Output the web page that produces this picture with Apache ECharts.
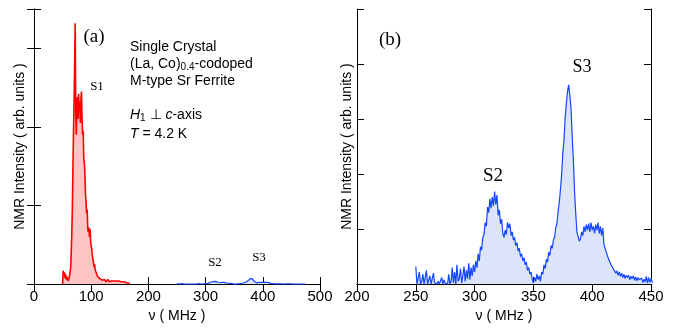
<!DOCTYPE html>
<html lang="en">
<head>
    <meta charset="UTF-8">
    <title>NMR spectra</title>
    <script type="text/javascript" src="https://cdn.jsdelivr.net/npm/echarts@6/dist/echarts.min.js"></script>
    <style>
        body{margin:0;background:#fff;}
        #chart{width:674px;height:328px;}
    </style>
</head>
<body>
<div id="chart"></div>
<script type="text/javascript">
    // 频率网格：起点与步长 (MHz)
    var redStart = 50, redStep = 1;
    var blueStart = 250, blueStep = 1;

    // S1 峰 (红), 50 ~ 167 MHz
    var redInt = [
        0, 0.17, 0.12, 0.15, 0.08, 0.13, 0.06, 0.10, 0.05, 0.08,
        0.04, 0.07, 0.10, 0.08, 0.20, 0.38, 0.62, 0.95, 1.45, 1.90,
        2.30, 2.75, 3.32, 2.20, 1.90, 2.25, 2.38, 2.10, 2.42, 2.20,
        2.32, 2.05, 2.35, 2.45, 2.10, 1.90, 1.95, 1.60, 1.55, 1.40,
        1.15, 1.05, 0.90, 0.95, 0.70, 0.66, 0.72, 0.60, 0.70, 0.55,
        0.48, 0.45, 0.36, 0.32, 0.30, 0.22, 0.25, 0.18, 0.20, 0.14,
        0.16, 0.10, 0.12, 0.09, 0.10, 0.07, 0.08, 0.06, 0.07, 0.05,
        0.06, 0.04, 0.05, 0.06, 0.04, 0.05, 0.03, 0.05, 0.04, 0.06,
        0.04, 0.05, 0.03, 0.04, 0.05, 0.03, 0.04, 0.03, 0.05, 0.03,
        0.04, 0.03, 0.04, 0.02, 0.04, 0.03, 0.03, 0.02, 0.04, 0.02,
        0.03, 0.02, 0.03, 0.02, 0.03, 0.02, 0.02, 0.03, 0.02, 0.02,
        0.03, 0.02, 0.02, 0.01, 0.02, 0.02, 0.01, 0
    ];

    // S2 / S3 峰 (蓝), 250 ~ 475 MHz
    var blueInt = [
        0.32, 0.00, 0.02, 0.22, 0.00, 0.05, 0.18, 0.00, 0.02, 0.25,
        0.00, 0.03, 0.15, 0.00, 0.00, 0.20, 0.02, 0.00, 0.00, 0.05,
        0.00, 0.00, 0.12, 0.00, 0.08, 0.02, 0.00, 0.00, 0.18, 0.00,
        0.05, 0.30, 0.02, 0.22, 0.00, 0.35, 0.05, 0.10, 0.28, 0.02,
        0.15, 0.32, 0.05, 0.25, 0.10, 0.38, 0.08, 0.30, 0.15, 0.35,
        0.22,
        0.42, 0.30, 0.55, 0.42, 0.68, 0.62, 0.85, 0.90, 1.12,
        1.05, 1.40, 1.30, 1.55, 1.38, 1.58, 1.42, 1.68, 1.45, 1.62,
        1.25, 1.35, 1.10, 1.18, 0.92, 0.85, 0.98, 0.90, 1.12, 1.02,
        1.10, 0.88, 0.95, 0.80, 0.85, 0.70, 0.75, 0.60, 0.65, 0.50,
        0.55, 0.42, 0.48, 0.35, 0.40, 0.25, 0.30, 0.18, 0.22, 0.08,
        0.02, 0.12, 0.05, 0.18, 0.08, 0.15, 0.05, 0.22, 0.18, 0.35,
        0.28, 0.45, 0.40, 0.58, 0.52, 0.70, 0.65, 0.80, 0.85, 1.02,
        1.10, 1.32, 1.48, 1.72, 1.98, 2.38, 2.62, 3.02, 3.28, 3.50,
        3.62, 3.42, 3.20, 2.68, 2.25, 1.68, 1.28, 0.95, 0.98, 0.78,
        0.82, 0.95, 0.88, 1.05, 0.95, 1.08, 0.98, 1.10, 0.95, 1.12,
        0.98, 1.05, 0.92, 1.08, 0.98, 1.12, 0.92, 1.05, 0.88, 1.02,
        0.72, 0.75, 0.58, 0.60, 0.45, 0.48, 0.35, 0.38, 0.28, 0.30,
        0.20, 0.24, 0.16, 0.22, 0.14, 0.20, 0.12, 0.18, 0.10, 0.16,
        0.12, 0.16, 0.08, 0.14, 0.10, 0.15, 0.07, 0.13, 0.06, 0.12,
        0.08, 0.05, 0.11, 0.03, 0.09, 0.04, 0.14, 0.02, 0.12, 0.03,
        0.10,
        0.04, 0.06, 0.03, 0.05, 0.04, 0.03, 0.05, 0.02, 0.04, 0.03,
        0.03, 0.04, 0.02, 0.03, 0.02, 0.03, 0.02, 0.02, 0.03, 0.02,
        0.01, 0.02, 0.01, 0.01, 0
    ];

    var xTicksA = [0, 500, 100];     // min, max, interval
    var xTicksB = [200, 450, 50];

    function pairs(start, step, vals){
        var out = [];
        for(var i=0;i<vals.length;i++){
            out.push([start + i*step, vals[i]]);
        }
        return out;
    }

    var chart = echarts.init(document.getElementById('chart'));
    var sans = 'Liberation Sans, Arial, sans-serif';
    var serif = 'Liberation Serif, Times New Roman, serif';
    var line = {show:true, lineStyle:{color:'#000', width:1}};
    var tick = {show:true, inside:true, length:7, lineStyle:{color:'#000'}};

    function xAx(grid, t, pos, withLabel, gap){
        return {
            gridIndex:grid, type:'value', position:pos, min:t[0], max:t[1], interval:t[2],
            axisLine:line, axisTick:tick, splitLine:{show:false},
            axisLabel:{show:withLabel, color:'#000', fontFamily:sans, fontSize:15, margin:5},
            name: withLabel ? 'ν ( MHz )' : '', nameLocation:'middle', nameGap:gap,
            nameTextStyle:{color:'#000', fontFamily:sans, fontSize:14}
        };
    }
    function yAx(grid, max, pos, withName, gap){
        return {
            gridIndex:grid, type:'value', position:pos, min:0, max:max, interval:1,
            axisLine:line, axisTick:tick, splitLine:{show:false},
            axisLabel:{show:false},
            name: withName ? 'NMR Intensity ( arb. units )' : '', nameLocation:'middle', nameGap:gap,
            nameTextStyle:{color:'#000', fontFamily:sans, fontSize:14}
        };
    }

    var yA = yAx(0, 3.5, 'left', true, 7);
    var yB = yAx(1, 5, 'left', true, 3);

    function txt(x, y, s, size, font, align, rich){
        return {type:'text', x:x, y:y, z:100, style:{
            text:s, fill:'#000', fontSize:size, fontFamily:font,
            align:align||'center', verticalAlign:'middle', rich:rich
        }};
    }
    var rich = {
        sub:{fontSize:10, fontFamily:sans, fill:'#000', verticalAlign:'bottom', padding:[6,0,0,0]},
        i:{fontSize:14, fontFamily:sans, fontStyle:'italic', fill:'#000'}
    };

    var option = {
        animation:false,
        grid:[
            {left:34, top:9, width:286, height:276},
            {left:357, top:9, width:294, height:280}
        ],
        xAxis:[
            xAx(0, xTicksA, 'bottom', true, 20),
            xAx(0, xTicksA, 'top', false, 0),
            xAx(1, xTicksB, 'bottom', true, 17),
            xAx(1, xTicksB, 'top', false, 0)
        ],
        yAxis:[
            yA,
            yAx(0, 3.5, 'right', false, 0),
            {gridIndex:0, type:'value', min:0, max:166, show:false},
            yB,
            yAx(1, 5, 'right', false, 0)
        ],
        series:[
            {type:'line', xAxisIndex:0, yAxisIndex:0, data:pairs(redStart, redStep, redInt),
             showSymbol:false, lineStyle:{color:'#ff0000', width:1.6},
             areaStyle:{color:'#ffc4c4', opacity:1}},
            {type:'line', xAxisIndex:0, yAxisIndex:2, data:pairs(blueStart, blueStep, blueInt),
             showSymbol:false, lineStyle:{color:'#1446ff', width:1.2},
             areaStyle:{color:'#dce4fa', opacity:1}},
            {type:'line', xAxisIndex:2, yAxisIndex:3, data:pairs(blueStart, blueStep, blueInt),
             showSymbol:false, lineStyle:{color:'#1446ff', width:1.2},
             areaStyle:{color:'#dce4fa', opacity:1}}
        ],
        graphic:[
            txt(94, 37, '(a)', 19, serif),
            txt(97, 87, 'S1', 13, serif),
            txt(130, 47, 'Single Crystal', 14, sans, 'left'),
            txt(130, 64, '(La, Co){sub|0.4}-codoped', 14, sans, 'left', rich),
            txt(130, 81, 'M-type Sr Ferrite', 14, sans, 'left'),
            txt(130, 115, '{i|H}{sub|1} ⊥ {i|c}-axis', 14, sans, 'left', rich),
            txt(130, 134, '{i|T} = 4.2 K', 14, sans, 'left', rich),
            txt(215, 263, 'S2', 13, serif),
            txt(259, 258, 'S3', 13, serif),
            txt(390, 40, '(b)', 19, serif),
            txt(493, 176, 'S2', 19, serif),
            txt(582, 67, 'S3', 18, serif)
        ]
    };
    chart.setOption(option);
</script>
</body>
</html>
